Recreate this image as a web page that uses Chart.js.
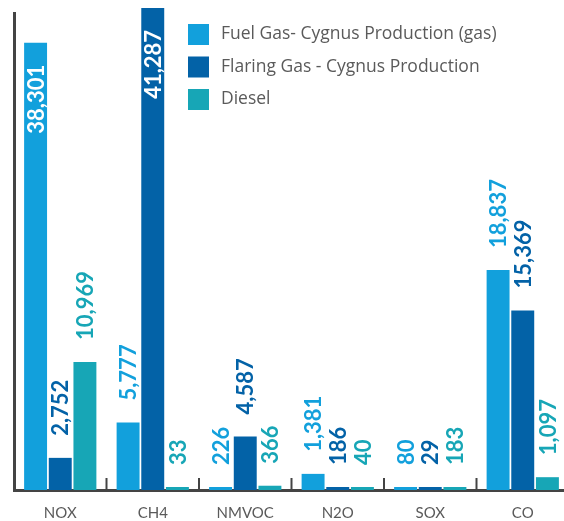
<!DOCTYPE html>
<html>
<head>
<meta charset="utf-8">
<script src="https://cdn.jsdelivr.net/npm/chart.js@4/dist/chart.umd.min.js"></script>
<style>
html,body{margin:0;padding:0;background:#fff;overflow:hidden;width:564px;height:521px;}
#wrap{width:574px;height:536px;}
</style>
</head>
<body>
<div id="wrap"><canvas id="c" width="574" height="536"></canvas></div>
<script>
const categories = ['NOX', 'CH4', 'NMVOC', 'N2O', 'SOX', 'CO'];
const seriesNames = ['Fuel Gas- Cygnus Production (gas)', 'Flaring Gas - Cygnus Production', 'Diesel'];
const fuelGas = [38301, 5777, 226, 1381, 80, 18837];
const flaringGas = [2752, 41287, 4587, 186, 29, 15369];
const diesel = [10969, 33, 366, 40, 183, 1097];
const seriesColors = ['#12A0DC', '#0362A7', '#17A6B6'];

const axisColor = '#444444';
const textColor = '#5a5a5a';

const labelPlugin = {
  id: 'barLabels',
  afterDatasetsDraw(chart) {
    const ctx = chart.ctx;
    ctx.save();
    ctx.font = 'bold 22px Lato';
    ctx.textBaseline = 'middle';
    chart.data.datasets.forEach((ds, di) => {
      const meta = chart.getDatasetMeta(di);
      meta.data.forEach((bar, i) => {
        const v = ds.data[i];
        const txt = v.toLocaleString('en-US');
        const w = ctx.measureText(txt).width;
        const gap = 22;
        let startY, color;
        if (bar.y - gap - w < 0) {
          startY = bar.y + gap + w;
          color = '#ffffff';
        } else {
          startY = bar.y - gap;
          color = ds.backgroundColor;
        }
        ctx.save();
        ctx.translate(bar.x, startY);
        ctx.rotate(-Math.PI / 2);
        ctx.fillStyle = color;
        ctx.textAlign = 'left';
        ctx.fillText(txt, 0, 1);
        ctx.restore();
      });
    });
    ctx.restore();
  }
};

const tickPlugin = {
  id: 'groupTicks',
  afterDraw(chart) {
    const ctx = chart.ctx;
    const xs = chart.scales.x;
    const bottom = chart.chartArea.bottom;
    ctx.save();
    ctx.strokeStyle = axisColor;
    ctx.lineWidth = 2;
    for (let i = 0; i < categories.length; i++) {
      const x = (xs.getPixelForValue(i) + xs.getPixelForValue(i + 1)) / 2;
      ctx.beginPath();
      ctx.moveTo(x, bottom - 12);
      ctx.lineTo(x, bottom);
      ctx.stroke();
    }
    ctx.restore();
  }
};

const legendPlugin = {
  id: 'customLegend',
  afterDraw(chart) {
    const ctx = chart.ctx;
    const o = chart.options.plugins.customLegend;
    ctx.save();
    ctx.font = o.font;
    ctx.textBaseline = 'middle';
    ctx.textAlign = 'left';
    chart.data.datasets.forEach((ds, i) => {
      const y = o.y + i * o.rowGap;
      ctx.fillStyle = ds.backgroundColor;
      ctx.fillRect(o.x, y, o.box, o.box);
      ctx.fillStyle = textColor;
      ctx.fillText(ds.label, o.x + o.textOffset, y + o.box / 2);
    });
    ctx.restore();
  }
};

new Chart(document.getElementById('c'), {
  type: 'bar',
  data: {
    labels: categories,
    datasets: [
      { label: seriesNames[0], data: fuelGas, backgroundColor: seriesColors[0], clip: false },
      { label: seriesNames[1], data: flaringGas, backgroundColor: seriesColors[1], clip: false },
      { label: seriesNames[2], data: diesel, backgroundColor: seriesColors[2], clip: false }
    ]
  },
  options: {
    responsive: false,
    animation: false,
    layout: { padding: { left: 14, top: 13, right: 5, bottom: 0 } },
    datasets: { bar: { categoryPercentage: 0.80, barPercentage: 0.93, borderWidth: 0, minBarLength: 3 } },
    scales: {
      x: {
        grid: { display: false, drawTicks: false },
        border: { display: true, color: axisColor, width: 3 },
        ticks: { color: textColor, font: { family: 'Lato', size: 15 }, padding: 14 }
      },
      y: {
        min: 0,
        max: 40850,
        grid: { display: false, drawTicks: false },
        border: { display: true, color: axisColor, width: 3 },
        ticks: { display: false }
      }
    },
    plugins: {
      legend: { display: false },
      tooltip: { enabled: false },
      customLegend: { x: 188, y: 24, box: 21, rowGap: 32.5, textOffset: 33, font: '17.5px "Open Sans"' }
    }
  },
  plugins: [labelPlugin, tickPlugin, legendPlugin]
});
</script>
</body>
</html>
